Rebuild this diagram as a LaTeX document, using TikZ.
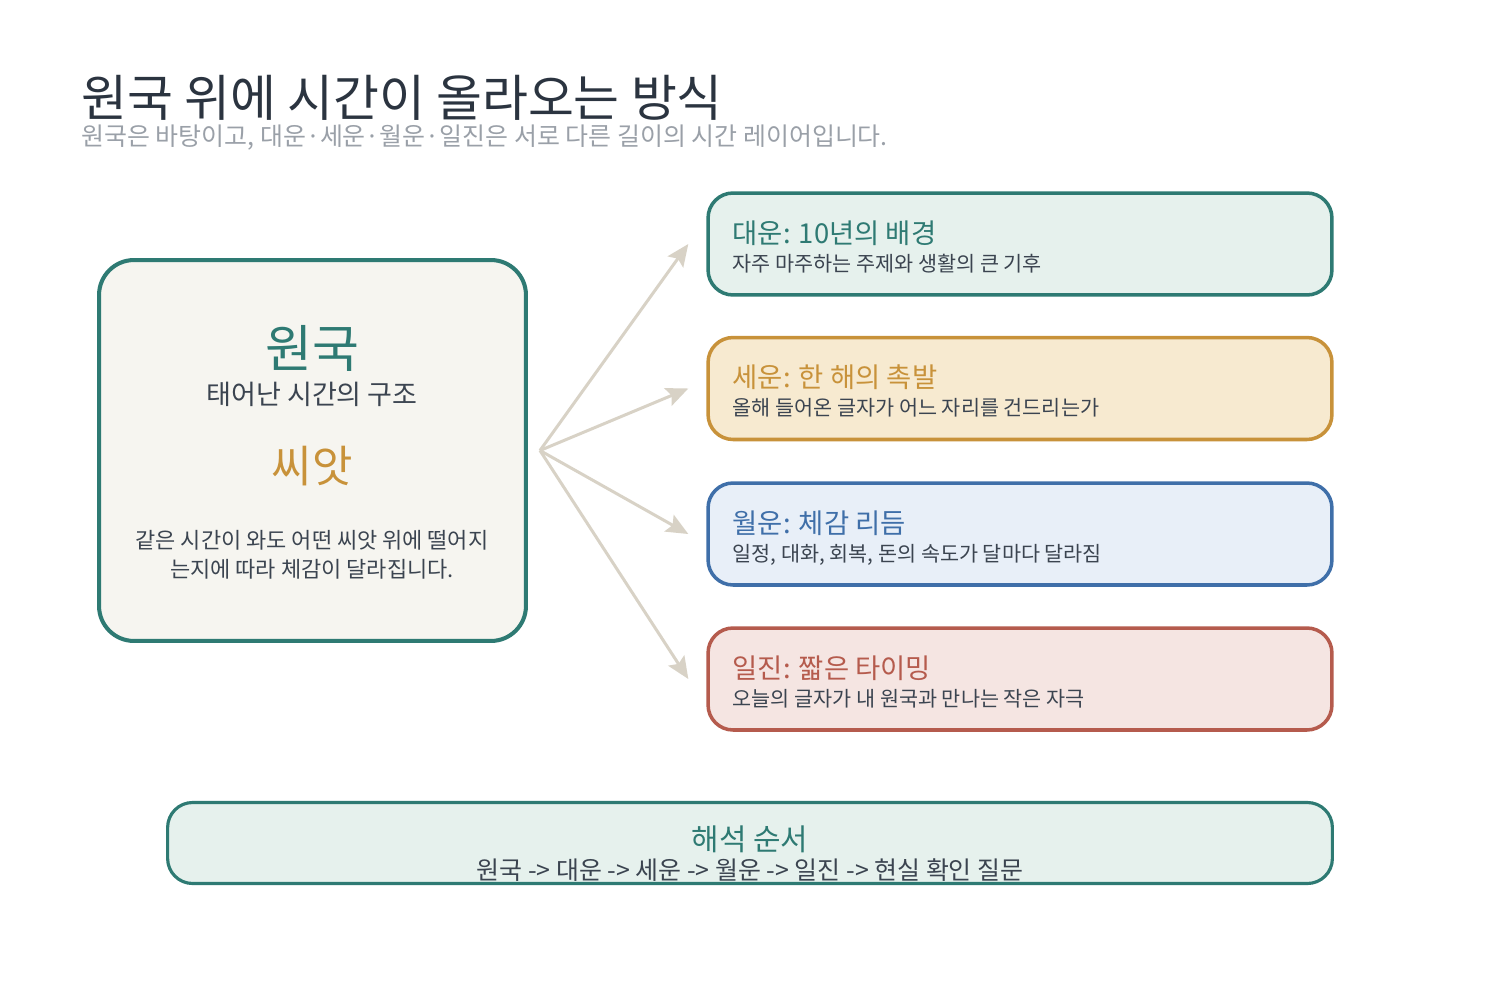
\documentclass[tikz,border=0pt]{standalone}
\usepackage{fontspec}
\setmainfont{Noto Sans CJK KR}
\usepackage{xcolor}
\definecolor{wonteal}{HTML}{2E7A73}
\definecolor{tealbg}{HTML}{E6F1ED}
\definecolor{seedgold}{HTML}{C8923A}
\definecolor{goldbg}{HTML}{F7EAD0}
\definecolor{monthblue}{HTML}{3F6FA9}
\definecolor{bluebg}{HTML}{E8EFF8}
\definecolor{dayred}{HTML}{B55B4D}
\definecolor{redbg}{HTML}{F5E5E2}
\definecolor{paper}{HTML}{F6F5F0}
\definecolor{inkdark}{HTML}{2B3440}
\definecolor{inkgray}{HTML}{3B4450}
\definecolor{inkmuted}{HTML}{9AA0A8}
\definecolor{fanline}{HTML}{D8D2C6}
\usepackage{tikz}
\usetikzlibrary{
  arrows.meta,
  positioning,
  calc,
}

\begin{document}
\begin{tikzpicture}[
  x=0.02cm, y=-0.02cm,
  layer/.style={rectangle, draw, rounded corners=0.5cm, line width=2pt, inner sep=0pt, minimum width=12.48cm, minimum height=2.04cm},
  daeun/.style={layer, draw=wonteal, fill=tealbg},
  seun/.style={layer, draw=seedgold, fill=goldbg},
  wolun/.style={layer, draw=monthblue, fill=bluebg},
  iljin/.style={layer, draw=dayred, fill=redbg},
  head/.style={anchor=base west, inner sep=0pt, font=\fontsize{15.6}{18}\selectfont},
  note/.style={anchor=base west, inner sep=0pt, text=inkgray, font=\fontsize{11.8}{14}\selectfont},
  mid/.style={anchor=base, inner sep=0pt},
  arr/.style={-{Stealth[length=0.44cm, width=0.38cm, inset=0.08cm]}, line width=1.7pt, color=fanline},
]
  \useasboundingbox[fill=white] (0,0) rectangle (1500,980);

  % Title
  \node[anchor=base west, inner sep=0pt, text=inkdark, font=\fontsize{28.4}{32}\selectfont] (title) at (81,116) {원국 위에 시간이 올라오는 방식};
  \node[anchor=base west, inner sep=0pt, text=inkmuted, font=\fontsize{14.2}{17}\selectfont] (subtitle) at (81,145) {원국은 바탕이고, 대운·세운·월운·일진은 서로 다른 길이의 시간 레이어입니다.};

  % Natal chart
  \node[rectangle, draw=wonteal, fill=paper, line width=2.3pt, rounded corners=0.7cm, minimum width=8.54cm, minimum height=7.62cm, inner sep=0pt] (wonguk) at (312.5,450.5) {};
  \node[mid, text=wonteal, font=\fontsize{29}{33}\selectfont] (wgname) at (312,367) {원국};
  \node[mid, text=inkgray, font=\fontsize{15.4}{18}\selectfont] (wgsub) at (312,404) {태어난 시간의 구조};
  \node[mid, text=seedgold, font=\fontsize{25}{29}\selectfont] (seed) at (312,482) {씨앗};
  \node[mid, text=inkgray, font=\fontsize{12.5}{15}\selectfont] (seedA) at (312,548) {같은 시간이 와도 어떤 씨앗 위에 떨어지};
  \node[mid, text=inkgray, font=\fontsize{12.5}{15}\selectfont] (seedB) at (312,577) {는지에 따라 체감이 달라집니다.};

  % Time layers
  \node[daeun] (dy) at (1020,244) {};
  \node[seun] (sy) at (1020,388.5) {};
  \node[wolun] (wy) at (1020,534) {};
  \node[iljin] (iy) at (1020,679) {};

  \node[head, text=wonteal] (dyT) at ($(dy.west)+(26,-1)$) {대운: 10년의 배경};
  \node[note] (dyN) at ($(dy.west)+(26,27)$) {자주 마주하는 주제와 생활의 큰 기후};
  \node[head, text=seedgold] (syT) at ($(sy.west)+(26,-1)$) {세운: 한 해의 촉발};
  \node[note] (syN) at ($(sy.west)+(26,27)$) {올해 들어온 글자가 어느 자리를 건드리는가};
  \node[head, text=monthblue] (wyT) at ($(wy.west)+(26,-1)$) {월운: 체감 리듬};
  \node[note] (wyN) at ($(wy.west)+(26,27)$) {일정, 대화, 회복, 돈의 속도가 달마다 달라짐};
  \node[head, text=dayred] (iyT) at ($(iy.west)+(26,-1)$) {일진: 짧은 타이밍};
  \node[note] (iyN) at ($(iy.west)+(26,27)$) {오늘의 글자가 내 원국과 만나는 작은 자극};

  % Arrows
  \coordinate (fan) at ($(wonguk.east)+(12,0)$);
  \coordinate (tips) at ($(dy.west)+(-18,0)$);
  \draw[arr] (fan) -- (tips |- dy.west);
  \draw[arr] (fan) -- (tips |- sy.west);
  \draw[arr] (fan) -- (tips |- wy.west);
  \draw[arr] (fan) -- (tips |- iy.west);

  % Reading order
  \node[rectangle, draw=wonteal, fill=tealbg, line width=1.8pt, rounded corners=0.5cm, minimum width=23.3cm, minimum height=1.62cm, inner sep=0pt] (order) at (750,843) {};
  \node[mid, text=wonteal, font=\fontsize{17}{20}\selectfont] (orderT) at (750,850) {해석 순서};
  \node[mid, text=inkgray, font=\fontsize{14.2}{17}\selectfont] (orderN) at (750,879) {원국 -> 대운 -> 세운 -> 월운 -> 일진 -> 현실 확인 질문};

\end{tikzpicture}
\end{document}
